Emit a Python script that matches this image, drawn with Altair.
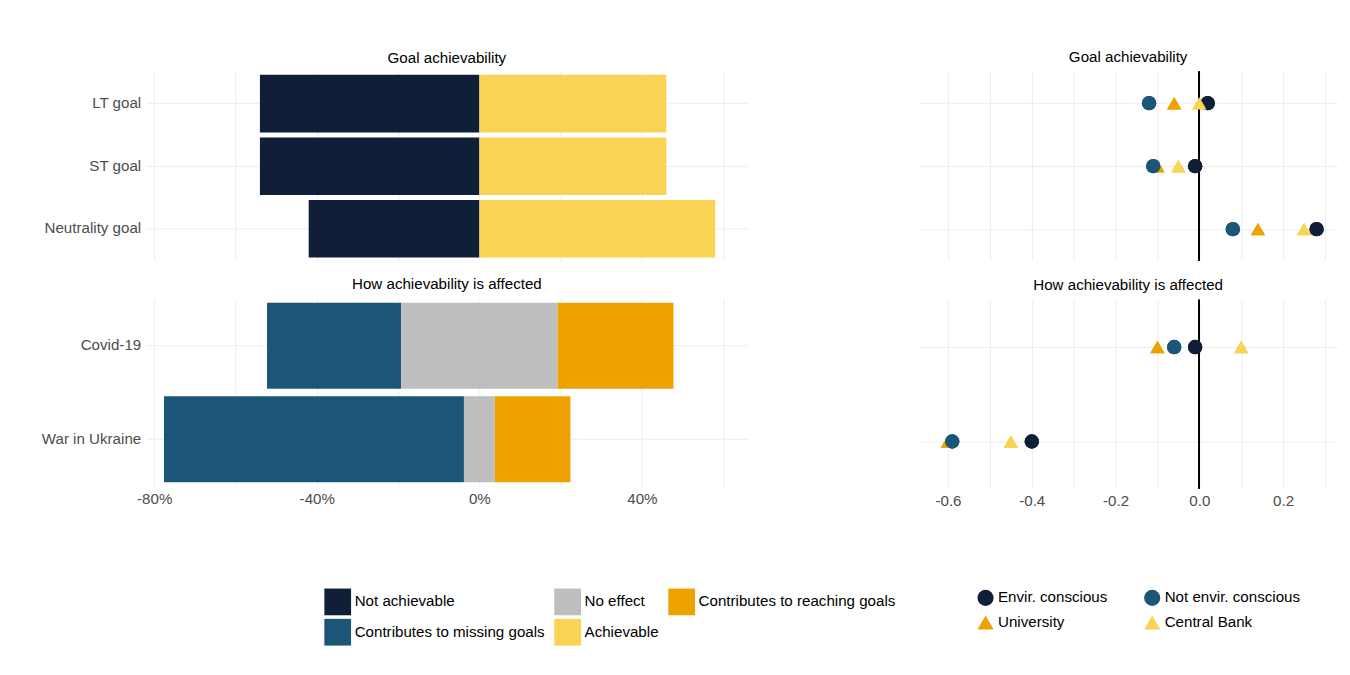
import altair as alt
import pandas as pd

FONT = "Liberation Sans"

goals = ["LT goal", "ST goal", "Neutrality goal"]
not_achievable = [0.54, 0.54, 0.42]
achievable = [0.46, 0.46, 0.58]

events = ["Covid-19", "War in Ukraine"]
missing = [0.33, 0.738]
no_effect = [0.385, 0.076]
reaching = [0.285, 0.186]

bar_cats = ["Not achievable", "Contributes to missing goals", "No effect",
            "Achievable", "Contributes to reaching goals"]
bar_colors = ["#0F1F38", "#1B5679", "#BEBEBE", "#F8D354", "#EDA200"]

groups = ["Envir. conscious", "University", "Not envir. conscious", "Central Bank"]
group_colors = ["#0F1F38", "#EDA200", "#1B5679", "#F8D354"]
group_shapes = ["circle", "triangle-up", "circle", "triangle-up"]

goal_pts = {
    "Envir. conscious": [0.02, -0.01, 0.28],
    "University": [-0.06, -0.10, 0.14],
    "Not envir. conscious": [-0.12, -0.11, 0.08],
    "Central Bank": [0.0, -0.05, 0.25],
}
event_pts = {
    "Envir. conscious": [-0.01, -0.40],
    "University": [-0.10, -0.60],
    "Not envir. conscious": [-0.06, -0.59],
    "Central Bank": [0.10, -0.45],
}

rows = []
for g, na, a in zip(goals, not_achievable, achievable):
    rows.append({"item": g, "cat": "Not achievable", "x0": -na, "x1": 0})
    rows.append({"item": g, "cat": "Achievable", "x0": 0, "x1": a})
goal_df = pd.DataFrame(rows)

rows = []
for e, m, n, r in zip(events, missing, no_effect, reaching):
    rows.append({"item": e, "cat": "Contributes to missing goals", "x0": -n / 2 - m, "x1": -n / 2})
    rows.append({"item": e, "cat": "No effect", "x0": -n / 2, "x1": n / 2})
    rows.append({"item": e, "cat": "Contributes to reaching goals", "x0": n / 2, "x1": n / 2 + r})
event_df = pd.DataFrame(rows)

goal_pt_df = pd.DataFrame(
    [{"item": goals[i], "group": k, "v": v[i]} for k, v in goal_pts.items() for i in range(3)]
)
event_pt_df = pd.DataFrame(
    [{"item": events[i], "group": k, "v": v[i]} for k, v in event_pts.items() for i in range(2)]
)

LW, RW, H = 675, 470, 212

bar_color = alt.Color(
    "cat:N", title=None,
    scale=alt.Scale(domain=bar_cats, range=bar_colors),
    legend=alt.Legend(orient="none", legendX=200, legendY=580, columns=3,
                      symbolType="square", symbolSize=900, labelFontSize=17,
                      columnPadding=10, rowPadding=4, labelLimit=400,
                      symbolStrokeWidth=0),
)

LEFT_GRID = [-0.8, -0.6, -0.4, -0.2, 0, 0.2, 0.4, 0.6]
RIGHT_GRID = [-0.6, -0.5, -0.4, -0.3, -0.2, -0.1, 0, 0.1, 0.2, 0.3]


def bar_panel(df, order, title, show_x):
    return (
        alt.Chart(df, title=title)
        .mark_bar()
        .encode(
            y=alt.Y("item:N", sort=order, title=None,
                    scale=alt.Scale(paddingInner=0.08, paddingOuter=0.05),
                    axis=alt.Axis(minExtent=150, grid=True)),
            x=alt.X("x0:Q", title=None,
                    scale=alt.Scale(domain=[-0.82, 0.66], nice=False),
                    axis=alt.Axis(values=LEFT_GRID, grid=True,
                                  labelExpr="(round(datum.value*10) % 4 == 0) ? replace(format(datum.value, '.0%'), '\u2212', '-') : ''",
                                  labels=show_x)),
            x2="x1:Q",
            color=bar_color,
        )
        .properties(width=LW, height=H)
    )


pt_color = alt.Color(
    "group:N", title=None,
    scale=alt.Scale(domain=groups, range=group_colors),
    legend=alt.Legend(orient="none", legendX=65, legendY=580, columns=2,
                      symbolSize=330, labelFontSize=17, columnPadding=40,
                      rowPadding=8, labelLimit=400),
)
pt_shape = alt.Shape("group:N", title=None,
                     scale=alt.Scale(domain=groups, range=group_shapes))


def dot_panel(df, order, title, show_x):
    base = alt.Chart(df, title=title)
    x = alt.X("v:Q", title=None,
              scale=alt.Scale(domain=[-0.67, 0.33], nice=False),
              axis=alt.Axis(values=RIGHT_GRID, grid=True,
                            labelExpr="(abs(round(datum.value*10)) % 2 == 0) ? replace(format(datum.value, '.1f'), '\u2212', '-') : ''",
                            labels=show_x))
    pts = base.mark_point(filled=True, size=260, opacity=1).encode(
        y=alt.Y("item:N", sort=order, title=None,
                axis=alt.Axis(labels=False, grid=True)),
        x=x,
        color=pt_color,
        shape=pt_shape,
    )
    zero = base.mark_rule(color="black", strokeWidth=1.5).encode(
        x=alt.datum(0, type="quantitative"))
    return (pts + zero + pts).properties(width=RW, height=H)


left = alt.vconcat(
    bar_panel(goal_df, goals, "Goal achievability", False),
    bar_panel(event_df, events, "How achievability is affected", True),
    spacing=18,
)
right = alt.vconcat(
    dot_panel(goal_pt_df, goals, "Goal achievability", False),
    dot_panel(event_pt_df, events, "How achievability is affected", True),
    spacing=18,
)

chart = (
    alt.hconcat(left, right, spacing=25)
    .resolve_scale(color="independent", shape="independent")
    .configure(font=FONT)
    .configure_view(stroke=None)
    .configure_axis(domain=False, ticks=False, gridColor="#EBEBEB",
                    labelFontSize=17, labelColor="#4D4D4D", labelPadding=6)
    .configure_title(fontSize=17, fontWeight="normal", anchor="middle", offset=6)
    .configure_legend(labelFontSize=17, labelColor="black")
)

chart.save("out.html", embed_options={"renderer": "svg", "actions": False})
